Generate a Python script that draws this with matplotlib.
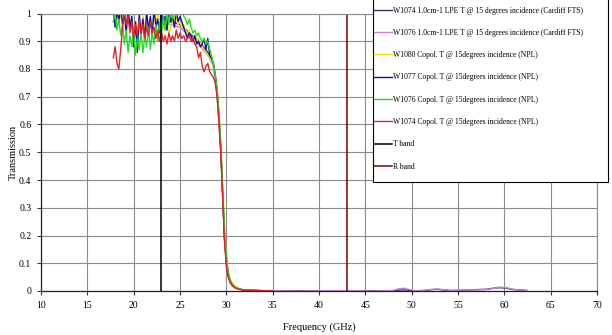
import numpy as np
import matplotlib.pyplot as plt
from matplotlib.patches import Rectangle

plt.rcParams['font.family'] = ['Liberation Serif', 'DejaVu Serif']

# NPL measurements share one frequency grid (GHz)
freq_npl = [17.8, 18.0, 18.2, 18.4, 18.6, 18.8, 19.0, 19.2, 19.4, 19.6,
            19.8, 20.0, 20.2, 20.4, 20.6, 20.8, 21.0, 21.2, 21.4, 21.6,
            21.8, 22.0, 22.2, 22.4, 22.6, 22.8, 23.0, 23.2, 23.4, 23.6,
            23.8, 24.0, 24.2, 24.4, 24.6, 24.8, 25.0, 25.2, 25.4, 25.6,
            25.8, 26.0, 26.2, 26.4, 26.6, 26.8, 27.0, 27.2, 27.4, 27.6,
            27.8, 28.0, 28.2, 28.4, 28.6,
            28.8, 29.0, 29.2, 29.4, 29.6, 29.8, 30.0, 30.2, 30.4, 30.7,
            31.0, 31.5, 32.0, 33.0, 34.0, 35.0]

w1080_npl = [1.00, 0.97, 1.01, 0.98, 0.99, 0.96, 1.00, 0.97, 0.99, 0.95,
             0.98, 0.94, 0.97, 0.93, 0.98, 0.95, 0.99, 0.94, 0.97, 0.95,
             0.98, 0.96, 0.99, 0.97, 1.00, 0.98, 0.97, 0.95, 0.94, 0.96,
             0.93, 0.95, 0.97, 0.99, 0.98, 0.96, 0.97, 0.95, 0.96, 0.94,
             0.93, 0.94, 0.92, 0.91, 0.92, 0.90, 0.91, 0.89, 0.88, 0.87,
             0.86, 0.85, 0.84, 0.83, 0.81,
             0.78, 0.73, 0.65, 0.54, 0.39, 0.23, 0.12, 0.07, 0.045, 0.025,
             0.015, 0.007, 0.004, 0.002, 0.001, 0.001]

w1077_npl = [1.02, 0.95, 1.01, 0.97, 1.03, 0.96, 1.00, 0.93, 1.02, 0.95,
             0.99, 0.88, 0.97, 0.86, 1.00, 0.92, 0.98, 0.90, 1.01, 0.94,
             0.99, 0.92, 1.02, 0.95, 0.98, 0.93, 1.01, 0.96, 0.99, 0.94,
             1.02, 0.97, 0.99, 0.95, 1.01, 0.97, 0.99, 0.97, 0.95, 0.93,
             0.91, 0.93, 0.92, 0.90, 0.92, 0.89, 0.90, 0.88, 0.89, 0.91,
             0.87, 0.91, 0.85, 0.84, 0.82,
             0.78, 0.72, 0.63, 0.51, 0.35, 0.19, 0.10, 0.06, 0.035, 0.02,
             0.012, 0.006, 0.003, 0.002, 0.001, 0.001]

w1076_npl = [0.97, 1.00, 0.94, 0.98, 0.92, 0.96, 0.89, 0.94, 0.86, 0.92,
             0.88, 0.95, 0.85, 0.91, 0.87, 0.93, 0.86, 0.92, 0.88, 0.95,
             0.87, 0.93, 0.89, 0.96, 0.90, 0.97, 0.92, 0.99, 0.94, 1.01,
             0.96, 1.02, 0.98, 1.01, 0.99, 1.02, 1.00, 1.01, 0.99, 0.98,
             0.96, 0.98, 0.95, 0.93, 0.94, 0.92, 0.93, 0.91, 0.90, 0.91,
             0.89, 0.90, 0.87, 0.85, 0.82,
             0.78, 0.73, 0.64, 0.53, 0.37, 0.22, 0.12, 0.07, 0.04, 0.022,
             0.013, 0.006, 0.003, 0.002, 0.001, 0.001]

w1074_npl = [0.84, 0.88, 0.82, 0.80, 0.87, 0.95, 1.01, 0.96, 0.99, 0.93,
             0.97, 0.91, 0.96, 0.92, 0.98, 0.93, 0.96, 0.91, 0.95, 0.92,
             0.97, 0.93, 0.95, 0.91, 0.94, 0.90, 0.93, 0.90, 0.92, 0.89,
             0.93, 0.90, 0.92, 0.90, 0.94, 0.91, 0.93, 0.91, 0.92, 0.90,
             0.91, 0.92, 0.90, 0.91, 0.89, 0.88, 0.84, 0.86, 0.81, 0.79,
             0.81, 0.82, 0.79, 0.78, 0.77,
             0.75, 0.70, 0.61, 0.50, 0.34, 0.18, 0.09, 0.05, 0.03, 0.018,
             0.01, 0.005, 0.003, 0.002, 0.001, 0.001]

# Cardiff FTS measurements
freq_fts = [24.0, 25.0, 26.0, 27.0, 28.0, 28.6, 29.0, 29.4, 29.8, 30.2,
            30.6, 31.0, 32.0, 34.0, 36.0, 38.0, 40.0, 42.0, 44.0, 46.0,
            48.0, 48.6, 49.2, 49.8, 50.5, 51.5, 52.2, 52.8, 53.4, 54.2,
            55.2, 56.0, 57.0, 58.0, 58.8, 59.5, 60.2, 61.0, 62.0, 62.4]

w1074_fts = [0.97, 0.96, 0.93, 0.90, 0.86, 0.82, 0.72, 0.52, 0.20, 0.06,
             0.02, 0.01, 0.003, 0.001, 0.001, 0.001, 0.0, 0.001, 0.0, 0.001,
             0.001, 0.003, 0.004, 0.002, 0.0, 0.002, 0.005, 0.006, 0.004, 0.002,
             0.002, 0.004, 0.005, 0.006, 0.010, 0.012, 0.010, 0.005, 0.003, 0.002]

w1076_fts = [0.96, 0.95, 0.92, 0.89, 0.85, 0.81, 0.71, 0.50, 0.19, 0.05,
             0.02, 0.01, 0.003, 0.001, 0.001, 0.0, 0.001, 0.001, 0.001, 0.0,
             0.002, 0.008, 0.010, 0.005, 0.001, 0.003, 0.006, 0.007, 0.005, 0.002,
             0.003, 0.004, 0.004, 0.005, 0.009, 0.014, 0.012, 0.006, 0.003, 0.002]

# band markers
t_band = 23.0
r_band = 43.0

W, H = 612, 335
fig = plt.figure(figsize=(W / 100, H / 100), dpi=100)
ax = fig.add_axes([41 / W, 44 / H, 556 / W, 277.5 / H])

lw = 1.0
ax.plot(freq_fts, w1074_fts, color='#333366', lw=lw,
        label='W1074 1.0cm-1 LPE T @ 15 degrees incidence (Cardiff FTS)')
ax.plot(freq_fts, w1076_fts, color='#C77FD9', lw=lw,
        label='W1076 1.0cm-1 LPE T @ 15 degrees incidence (Cardiff FTS)')
ax.plot(freq_npl, w1080_npl, color='#FFD700', lw=lw,
        label='W1080 Copol. T @ 15degrees incidence (NPL)')
ax.plot(freq_npl, w1077_npl, color='#1010A0', lw=lw,
        label='W1077 Copol. T @ 15degrees incidence (NPL)')
ax.plot(freq_npl, w1076_npl, color='#22DD22', lw=lw,
        label='W1076 Copol. T @ 15degrees incidence (NPL)')
ax.plot(freq_npl, w1074_npl, color='#E8202A', lw=lw,
        label='W1074 Copol. T @ 15degrees incidence (NPL)')
ax.plot([t_band, t_band], [0, 1], color='black', lw=1.1, label='T band')
ax.plot([r_band, r_band], [0, 1], color='#800000', lw=1.1, label='R band')

ax.set_xlim(10, 70)
ax.set_ylim(0, 1)
ax.set_xticks(np.arange(10, 71, 5))
ax.set_yticks(np.arange(0, 1.01, 0.1))
ax.set_yticklabels(['0', '0.1', '0.2', '0.3', '0.4', '0.5', '0.6', '0.7',
                    '0.8', '0.9', '1'])
ax.grid(True, color='#8c8c8c', lw=0.8)
ax.set_axisbelow(True)
ax.tick_params(labelsize=7, length=3, width=0.8, color='#333333', pad=4)
for side in ['top', 'right']:
    ax.spines[side].set_color('#8c8c8c')
    ax.spines[side].set_linewidth(0.8)
for side in ['left', 'bottom']:
    ax.spines[side].set_color('#222222')
    ax.spines[side].set_linewidth(0.9)

ax.set_xlabel('Frequency (GHz)', fontsize=7.5, labelpad=9)
ax.set_ylabel('Transmission', fontsize=7.5)
ax.yaxis.set_label_coords(-0.041, 0.5)

# legend box drawn by hand so the padding is uneven like Excel's
ax.add_patch(Rectangle((373 / W, 1 - 182 / H), 235 / W, 182 / H + 0.01,
                       transform=fig.transFigure, facecolor='white',
                       edgecolor='black', lw=0.8, zorder=4, clip_on=False))
leg = ax.legend(loc='upper left',
                bbox_to_anchor=(372 / W, 1 - 5 / H),
                bbox_transform=fig.transFigure,
                fontsize=5.5, labelspacing=1.87, handlelength=2.4,
                handletextpad=0.1, borderpad=0.2, borderaxespad=0,
                frameon=False)
leg.set_zorder(6)

fig.savefig('out.png', dpi=100)
